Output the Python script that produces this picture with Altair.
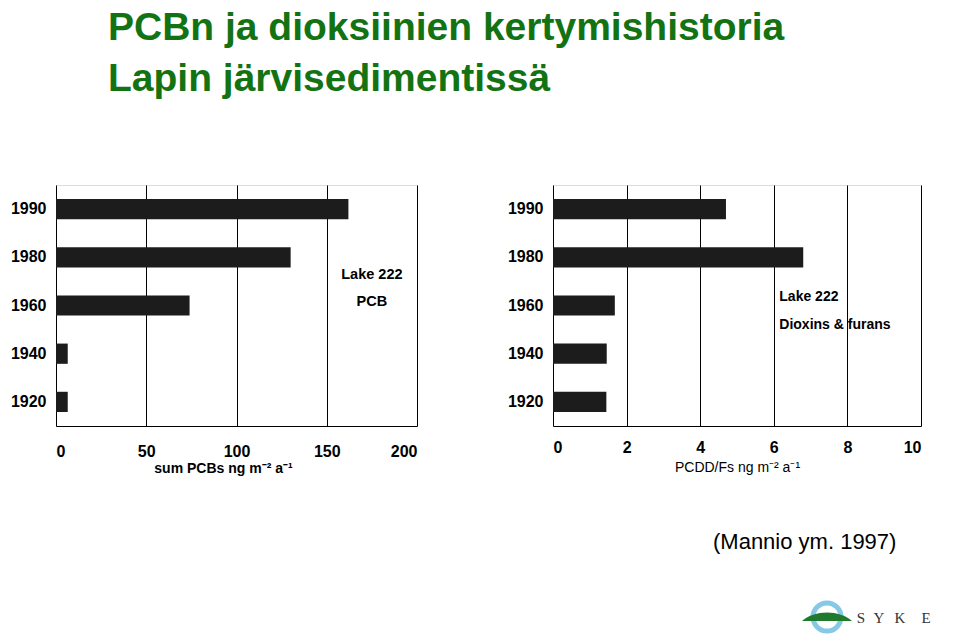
import altair as alt
import pandas as pd

years = ["1990", "1980", "1960", "1940", "1920"]
pcb_values = [162, 130, 74, 6.5, 6.5]
pcdd_values = [4.7, 6.8, 1.68, 1.46, 1.45]
pcb_ticks = [0, 50, 100, 150, 200]
pcdd_ticks = [0, 2, 4, 6, 8, 10]

title_lines = ["PCBn ja dioksiinien kertymishistoria", "Lapin järvisedimentissä"]
left_note = ["Lake 222", "PCB"]
right_note = ["Lake 222", "Dioxins & furans"]
source_text = "(Mannio ym. 1997)"
logo_letters = ["S", "Y", "K", "E"]

FONT = "Liberation Sans, Arial, sans-serif"
GREEN = "#137313"
BAR = "#1c1c1c"

pcb_df = pd.DataFrame({"year": years, "value": pcb_values})
pcdd_df = pd.DataFrame({"year": years, "value": pcdd_values})
one = pd.DataFrame({"a": [0]})

W1, W2, H = 361, 368, 241


def ybar():
    return alt.Y(
        "year:N", sort=years, title=None,
        scale=alt.Scale(paddingInner=0.58, paddingOuter=0.29),
        axis=alt.Axis(labelFont=FONT, labelFontSize=16, labelFontWeight="bold",
                      labelColor="#000", ticks=False, domain=False, labelPadding=10),
    )


left_bars = alt.Chart(pcb_df).mark_bar(color=BAR).encode(
    x=alt.X("value:Q", scale=alt.Scale(domain=[0, 200], nice=False),
            axis=alt.Axis(values=pcb_ticks, grid=True, gridColor="#000", gridOpacity=1,
                          gridWidth=1, domain=True, domainColor="#000", ticks=False,
                          labelFont=FONT, labelFontSize=16, labelFontWeight="bold",
                          labelColor="#000", labelPadding=17,
                          title="sum PCBs ng m⁻² a⁻¹", titleFont=FONT, titleFontSize=14,
                          titleFontWeight="bold", titleColor="#000", titlePadding=2,
                          titleX=167, titleAlign="center")),
    y=ybar(),
)

left_note_layer = alt.Chart(pd.DataFrame({"t": left_note, "x": [175, 175], "py": [90, 117]})).mark_text(
    font=FONT, fontSize=14.5, fontWeight="bold", color="#000", baseline="middle", align="center"
).encode(x="x:Q", y=alt.Y("py:Q", scale=None), text="t:N")

title_layer = alt.Chart(pd.DataFrame({"t": title_lines, "py": [-145, -94]})).mark_text(
    font=FONT, fontSize=39, fontWeight="bold", color=GREEN, align="left", baseline="alphabetic"
).encode(x=alt.value(52), y=alt.Y("py:Q", scale=None), text="t:N")

left = alt.layer(left_bars, left_note_layer, title_layer).properties(width=W1, height=H)

right_bars = alt.Chart(pcdd_df).mark_bar(color=BAR).encode(
    x=alt.X("value:Q", scale=alt.Scale(domain=[0, 10], nice=False),
            axis=alt.Axis(values=pcdd_ticks, grid=True, gridColor="#000", gridOpacity=1,
                          gridWidth=1, domain=True, domainColor="#000", ticks=False,
                          labelFont=FONT, labelFontSize=16, labelFontWeight="bold",
                          labelColor="#000", labelPadding=13,
                          title="PCDD/Fs ng m⁻² a⁻¹", titleFont=FONT, titleFontSize=14,
                          titleFontWeight="normal", titleColor="#000", titlePadding=5)),
    y=ybar(),
)

right_note_layer = alt.Chart(pd.DataFrame({"t": right_note, "x": [6.15, 6.15], "py": [112, 140]})).mark_text(
    font=FONT, fontSize=14, fontWeight="bold", color="#000", baseline="middle", align="left"
).encode(x="x:Q", y=alt.Y("py:Q", scale=None), text="t:N")

source_layer = alt.Chart(one).mark_text(
    font=FONT, fontSize=22, color="#000", align="left", baseline="middle"
).encode(x=alt.value(160), y=alt.value(357), text=alt.value(source_text))

ring = alt.Chart(one).mark_point(shape="circle", filled=False, stroke="#86c8e6", strokeWidth=5,
                                 opacity=1).encode(
    x=alt.value(274), y=alt.value(432), size=alt.value(784))

hill = alt.Chart(one).mark_point(
    shape="M -1 0.16 C -0.5 -0.3 0.5 -0.3 1 0.16 Z", filled=True, fill="#1f7a2e",
    opacity=1).encode(x=alt.value(274), y=alt.value(432), size=alt.value(2500))

logo_text_layer = alt.Chart(pd.DataFrame({"t": logo_letters, "px": [308, 326, 347, 373]})).mark_text(
    font="Liberation Serif, DejaVu Serif, serif", fontSize=15, color="#333", align="center",
    baseline="middle").encode(x=alt.X("px:Q", scale=None), y=alt.value(433), text="t:N")

right = alt.layer(right_bars, right_note_layer, source_layer, ring, hill, logo_text_layer).properties(
    width=W2, height=H)

chart = alt.hconcat(left, right, spacing=136, bounds="flush").configure_view(
    stroke="#000", strokeWidth=1
).configure(background="#ffffff").properties(
    padding={"left": 1, "top": 0, "right": 5, "bottom": 5}
)

chart.save("out.html", embed_options={"renderer": "svg", "actions": False})
